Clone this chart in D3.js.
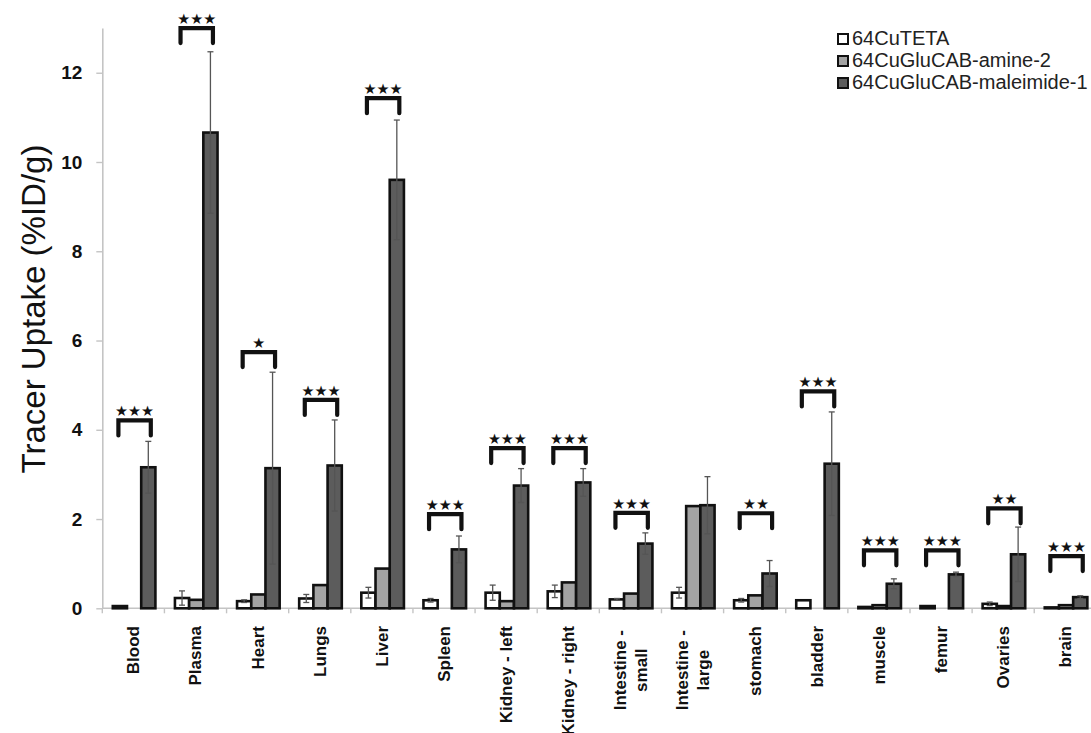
<!DOCTYPE html>
<html>
<head>
<meta charset="utf-8">
<script src="https://cdn.jsdelivr.net/npm/d3@7"></script>
<style>
    html, body { margin: 0; padding: 0; background: #fff; }
    svg { display: block; font-family: 'Liberation Sans', Arial, sans-serif; }
</style>
</head>
<body>
<div id="root"></div>
<script>
const categories = ['Blood', 'Plasma', 'Heart', 'Lungs', 'Liver', 'Spleen', 'Kidney - left', 'Kidney - right',
    'Intestine - small', 'Intestine - large', 'stomach', 'bladder', 'muscle', 'femur', 'Ovaries', 'brain'];
const labelLines = [['Blood'], ['Plasma'], ['Heart'], ['Lungs'], ['Liver'], ['Spleen'], ['Kidney - left'], ['Kidney - right'],
    ['Intestine -', 'small'], ['Intestine -', 'large'], ['stomach'], ['bladder'], ['muscle'], ['femur'], ['Ovaries'], ['brain']];

const seriesNames = ['64CuTETA', '64CuGluCAB-amine-2', '64CuGluCAB-maleimide-1'];
const tetaMean = [0.05, 0.23, 0.16, 0.22, 0.35, 0.18, 0.35, 0.38, 0.20, 0.35, 0.18, 0.18, 0.03, 0.05, 0.10, 0.02];
const tetaErr = [0, 0.16, 0.03, 0.09, 0.12, 0.04, 0.17, 0.14, 0.02, 0.12, 0.04, 0, 0, 0, 0.04, 0];
const amineMean = [0, 0.19, 0.31, 0.52, 0.89, 0, 0.16, 0.58, 0.33, 2.29, 0.29, 0, 0.07, 0, 0.05, 0.07];
const amineErr = [0, 0, 0, 0, 0, 0, 0, 0, 0, 0, 0, 0, 0, 0, 0, 0];
const maleMean = [3.16, 10.66, 3.14, 3.20, 9.60, 1.32, 2.75, 2.82, 1.45, 2.31, 0.78, 3.24, 0.55, 0.76, 1.21, 0.25];
const maleErr = [0.58, 1.81, 2.15, 1.02, 1.34, 0.30, 0.38, 0.31, 0.24, 0.64, 0.29, 1.16, 0.11, 0.05, 0.61, 0.03];

// significance marks (TETA vs maleimide) and the height of each bracket
const sigStars = ['***', '***', '*', '***', '***', '***', '***', '***', '***', '', '**', '***', '***', '***', '**', '***'];
const bracketLevel = [4.21, 13.0, 5.74, 4.67, 11.43, 2.11, 3.59, 3.59, 2.14, null, 2.13, 4.86, 1.30, 1.30, 2.24, 1.17];

const yTicks = [0, 2, 4, 6, 8, 10, 12];
const colors = ['#ffffff', '#a3a3a3', '#5c5c5c'];

const width = 1091;
const height = 733;
const x0 = 102.3;
const step = 62.13;
const baseY = 608.3;

const svg = d3.select('#root')
    .append('svg')
    .attr('width', width)
    .attr('height', height)
    .attr('viewBox', [0, 0, width, height]);

const x = d3.scaleBand()
    .domain(categories)
    .range([x0, x0 + step * categories.length]);

const xs = d3.scaleBand()
    .domain(seriesNames)
    .range([10.5, 53.1]);

const y = d3.scaleLinear()
    .domain([0, 13])
    .range([baseY, baseY - 13 * 44.63]);

// axes
const yAxis = svg.append('g')
    .attr('transform', `translate(${x0},0)`)
    .call(d3.axisLeft(y).tickValues(yTicks).tickSize(6).tickPadding(14).tickSizeOuter(0));
yAxis.select('.domain').attr('stroke', '#c4c4c4').attr('stroke-width', 1.6);
yAxis.selectAll('.tick line').attr('stroke', '#c4c4c4').attr('stroke-width', 1.4);
yAxis.selectAll('.tick text')
    .attr('fill', '#111')
    .style('font-size', '19px')
    .style('font-weight', 'bold');

svg.append('line')
    .attr('x1', x0).attr('x2', width)
    .attr('y1', baseY).attr('y2', baseY)
    .attr('stroke', '#c4c4c4')
    .attr('stroke-width', 1.6);

svg.append('g')
    .selectAll('line')
    .data(categories)
    .join('line')
    .attr('x1', d => x(d)).attr('x2', d => x(d))
    .attr('y1', baseY).attr('y2', baseY + 5)
    .attr('stroke', '#c4c4c4')
    .attr('stroke-width', 1.4);

svg.append('text')
    .attr('transform', 'translate(45,309) rotate(-90)')
    .attr('text-anchor', 'middle')
    .attr('fill', '#111')
    .style('font-size', '33px')
    .text('Tracer  Uptake (%ID/g)');

// bars
const means = [tetaMean, amineMean, maleMean];
const errs = [tetaErr, amineErr, maleErr];
const barData = [];
categories.forEach((c, ci) => {
    seriesNames.forEach((s, si) => {
        barData.push({ c, s, si, v: means[si][ci], e: errs[si][ci] });
    });
});

svg.append('g')
    .selectAll('rect')
    .data(barData)
    .join('rect')
    .attr('x', d => x(d.c) + xs(d.s))
    .attr('y', d => y(d.v))
    .attr('width', xs.bandwidth())
    .attr('height', d => y(0) - y(d.v))
    .attr('fill', d => colors[d.si])
    .attr('stroke', '#111')
    .attr('stroke-width', 2.6);

// error bars
const errData = barData.filter(d => d.e > 0);
const eg = svg.append('g')
    .attr('stroke', '#555')
    .attr('stroke-width', 1.3);
eg.selectAll('line.stem')
    .data(errData)
    .join('line')
    .attr('class', 'stem')
    .attr('x1', d => x(d.c) + xs(d.s) + xs.bandwidth() / 2)
    .attr('x2', d => x(d.c) + xs(d.s) + xs.bandwidth() / 2)
    .attr('y1', d => y(d.v - d.e))
    .attr('y2', d => y(d.v + d.e));
eg.selectAll('line.cap')
    .data(errData.flatMap(d => [{ ...d, end: d.v + d.e }, { ...d, end: d.v - d.e }]))
    .join('line')
    .attr('class', 'cap')
    .attr('x1', d => x(d.c) + xs(d.s) + xs.bandwidth() / 2 - 3)
    .attr('x2', d => x(d.c) + xs(d.s) + xs.bandwidth() / 2 + 3)
    .attr('y1', d => y(d.end))
    .attr('y2', d => y(d.end));

// significance brackets
const sigData = categories
    .map((c, i) => ({ c, stars: sigStars[i], level: bracketLevel[i] }))
    .filter(d => d.level !== null);

svg.append('g')
    .selectAll('path')
    .data(sigData)
    .join('path')
    .attr('d', d => {
        const xa = x(d.c) + xs(seriesNames[0]) + xs.bandwidth() / 2 - 1.5;
        const xb = x(d.c) + xs(seriesNames[2]) + xs.bandwidth() / 2 + 2.5;
        const yt = y(d.level);
        return `M${xa},${yt + 15}V${yt}H${xb}V${yt + 15}`;
    })
    .attr('fill', 'none')
    .attr('stroke', '#111')
    .attr('stroke-width', 4.2)
    .attr('stroke-linecap', 'round');

svg.append('g')
    .selectAll('text')
    .data(sigData)
    .join('text')
    .attr('x', d => x(d.c) + xs(seriesNames[1]) + xs.bandwidth() / 2 + 0.5)
    .attr('y', d => y(d.level) - 4)
    .attr('text-anchor', 'middle')
    .attr('fill', '#111')
    .style('font-family', 'DejaVu Sans, sans-serif')
    .style('font-size', '14.5px')
    .text(d => d.stars.replace(/\*/g, '\u2605'));

// category labels, rotated
const lab = svg.append('g')
    .selectAll('g')
    .data(categories.map((c, i) => ({ c, lines: labelLines[i] })))
    .join('g');

lab.each(function (d) {
    const g = d3.select(this);
    const cx = x(d.c) + x.bandwidth() / 2;
    const n = d.lines.length;
    const texts = d.lines.map(t => g.append('text')
        .attr('text-anchor', n === 1 ? 'end' : 'middle')
        .attr('fill', '#111')
        .style('font-size', '17px')
        .style('font-weight', 'bold')
        .text(t));
    let maxLen = 0;
    texts.forEach(t => { maxLen = Math.max(maxLen, t.node().getComputedTextLength()); });
    texts.forEach((t, li) => {
        const lx = cx + 6 + (li - (n - 1) / 2) * 21;
        const ly = n === 1 ? 626 : 630 + maxLen / 2;
        t.attr('transform', `translate(${lx},${ly}) rotate(-90)`);
    });
});

// legend
const legend = svg.append('g')
    .selectAll('g')
    .data(seriesNames)
    .join('g')
    .attr('transform', (d, i) => `translate(838,${40 + i * 22})`);

legend.append('rect')
    .attr('x', 0)
    .attr('y', -6)
    .attr('width', 10)
    .attr('height', 10)
    .attr('fill', (d, i) => colors[i])
    .attr('stroke', '#111')
    .attr('stroke-width', 2);

legend.append('text')
    .attr('x', 14)
    .attr('y', 5)
    .attr('fill', '#222')
    .style('font-size', '20px')
    .text(d => d);
</script>
</body>
</html>
